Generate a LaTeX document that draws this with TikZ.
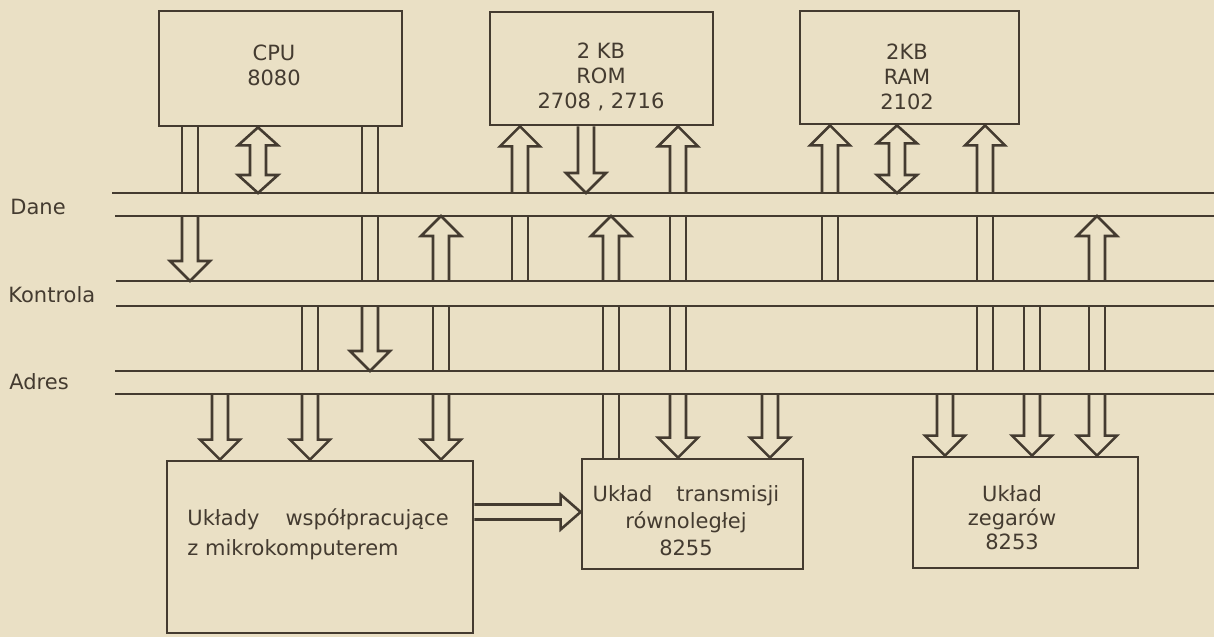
\documentclass[tikz,border=0pt]{standalone}
\usepackage{fontspec}
\setmainfont{DejaVu Sans}
\usetikzlibrary{calc}
\definecolor{Paper}{RGB}{234,224,197}
\definecolor{Ink}{RGB}{68,59,48}
\tikzset{
  bus/.style={draw=Ink, line width=1.3pt, line join=miter},
  blok/.style={draw=Ink, line width=1.4pt, inner sep=0pt},
  blokText/.style={inner sep=0pt, align=center, text=Ink, font=\fontsize{10.5}{12.5}\selectfont},
  buslabel/.style={anchor=base west, inner sep=0pt, text=Ink, font=\fontsize{10.5}{12.5}\selectfont},
}
% double-line pipe: x, from, to
\newcommand{\buspipe}[3]{%
  \coordinate (ht) at (#1,0 |- #2);
  \coordinate (hp) at (#1,0 |- #3);
  \draw[bus] ([xshift=-4pt]ht) -- ([xshift=-4pt]hp) ([xshift=4pt]ht) -- ([xshift=4pt]hp);}
% hollow arrow: x, tail, tip
\newcommand{\busarrow}[3]{%
  \coordinate (ht) at (#1,0 |- #2);
  \coordinate (hp) at (#1,0 |- #3);
  \coordinate (hb) at ($(hp)!10pt!(ht)$);
  \draw[bus] ([xshift=-4pt]ht) -- ([xshift=-4pt]hb) -- ([xshift=-10pt]hb) -- (hp)
    -- ([xshift=10pt]hb) -- ([xshift=4pt]hb) -- ([xshift=4pt]ht);}
% hollow double arrow: x, upper end, lower end
\newcommand{\busboth}[3]{%
  \coordinate (ht) at (#1,0 |- #2);
  \coordinate (hp) at (#1,0 |- #3);
  \coordinate (ha) at ($(ht)!9pt!(hp)$);
  \coordinate (hb) at ($(hp)!9pt!(ht)$);
  \draw[bus] (ht) -- ([xshift=-10pt]ha) -- ([xshift=-4pt]ha) -- ([xshift=-4pt]hb)
    -- ([xshift=-10pt]hb) -- (hp) -- ([xshift=10pt]hb) -- ([xshift=4pt]hb)
    -- ([xshift=4pt]ha) -- ([xshift=10pt]ha) -- cycle;}

\begin{document}
\begin{tikzpicture}[x=0.5pt, y=-0.5pt]
\fill[Paper] (0,0) rectangle (1214,637);
\useasboundingbox (0,0) rectangle (1214,637);

% blocks
\node[blok, minimum width=121.5pt, minimum height=57.5pt] (cpu) at (280.5,68.5) {};
\node[blokText] (cpuTxt) at (274,65) {CPU\\8080};
\node[blok, minimum width=111.5pt, minimum height=56.5pt] (rom) at (601.5,68.5) {};
\node[blokText] (romTxt) at (601,77) {2 KB\\ROM\\2708 , 2716};
\node[blok, minimum width=109.5pt, minimum height=56.5pt] (ram) at (909.5,67.5) {};
\node[blokText] (ramTxt) at (907,77) {2KB\\RAM\\2102};
\node[blok, minimum width=153pt, minimum height=86pt] (uklady) at (320,547) {};
\node[blokText, anchor=west, align=left] (ukladyTxt) at (187,534)
  {Układy\hspace{13pt}współpracujące\\[2.5pt]z mikrokomputerem};
\node[blok, minimum width=110.5pt, minimum height=55pt] (ppi) at (692.5,514) {};
\node[blokText, font=\fontsize{10.5}{13.5}\selectfont] (ppiTxt) at (686,521)
  {Układ\hspace{12pt}transmisji\\równoległej\\8255};
\node[blok, minimum width=112.5pt, minimum height=55.5pt] (timer) at (1025.5,512.5) {};
\node[blokText, font=\fontsize{10.5}{12}\selectfont] (timerTxt) at (1012,518)
  {Układ\\zegarów\\8253};

% buses
\coordinate (daneT) at (112,193);
\coordinate (daneB) at (115,216);
\coordinate (kontrT) at (116,281);
\coordinate (kontrB) at (116,306);
\coordinate (adrT) at (115,371);
\coordinate (adrB) at (115,394);
\coordinate (rim) at (1214,0);
\foreach \c in {daneT,daneB,kontrT,kontrB,adrT,adrB}
  \draw[bus] (\c) -- (\c -| rim);
\node[buslabel] (lDane) at (10,214) {Dane};
\node[buslabel] (lKontr) at (8,302) {Kontrola};
\node[buslabel] (lAdr) at (9,389) {Adres};

% CPU
\buspipe{190}{cpu.south}{daneT}
\busarrow{190}{daneB}{kontrT}
\busboth{258}{cpu.south}{daneT}
\buspipe{370}{cpu.south}{daneT}
\buspipe{370}{daneB}{kontrT}
\busarrow{370}{kontrB}{adrT}
% uklady wspolpracujace
\busarrow{220}{adrB}{uklady.north}
\buspipe{310}{kontrB}{adrT}
\busarrow{310}{adrB}{uklady.north}
\busarrow{441}{kontrT}{daneB}
\buspipe{441}{kontrB}{adrT}
\busarrow{441}{adrB}{uklady.north}
% ROM
\busarrow{520}{daneT}{rom.south}
\buspipe{520}{daneB}{kontrT}
\busarrow{586}{rom.south}{daneT}
\busarrow{678}{daneT}{rom.south}
\buspipe{678}{daneB}{kontrT}
\buspipe{678}{kontrB}{adrT}
\busarrow{678}{adrB}{ppi.north}
% 8255
\busarrow{611}{kontrT}{daneB}
\buspipe{611}{kontrB}{adrT}
\buspipe{611}{adrB}{ppi.north}
\busarrow{770}{adrB}{ppi.north}
% RAM
\busarrow{830}{daneT}{ram.south}
\buspipe{830}{daneB}{kontrT}
\busboth{897}{ram.south}{daneT}
\busarrow{985}{daneT}{ram.south}
\buspipe{985}{daneB}{kontrT}
\buspipe{985}{kontrB}{adrT}
% 8253
\busarrow{945}{adrB}{timer.north}
\buspipe{1032}{kontrB}{adrT}
\busarrow{1032}{adrB}{timer.north}
\busarrow{1097}{kontrT}{daneB}
\buspipe{1097}{kontrB}{adrT}
\busarrow{1097}{adrB}{timer.north}

% uklady -> 8255
\coordinate (ht) at (uklady.east |- 0,512);
\coordinate (hp) at (ppi.west |- 0,512);
\coordinate (hb) at ($(hp)!10pt!(ht)$);
\draw[bus] ([yshift=3.75pt]ht) -- ([yshift=3.75pt]hb) -- ([yshift=8.75pt]hb) -- (hp)
  -- ([yshift=-8.75pt]hb) -- ([yshift=-3.75pt]hb) -- ([yshift=-3.75pt]ht);

\end{tikzpicture}
\end{document}
